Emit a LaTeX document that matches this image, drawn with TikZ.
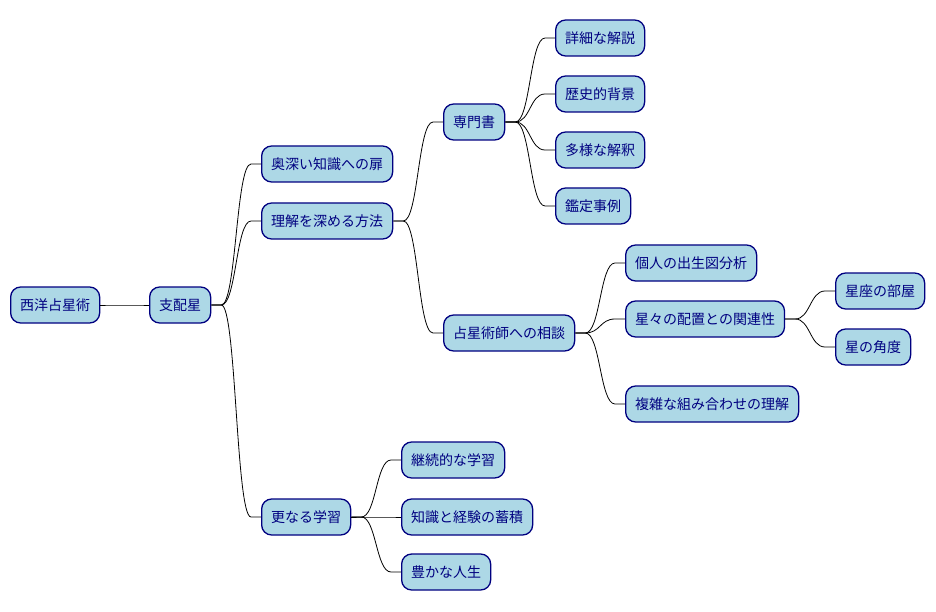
\documentclass[tikz,border=0pt]{standalone}
\usepackage{fontspec}
\newfontfamily\jpfont{Noto Sans CJK JP}
\definecolor{ideafill}{HTML}{ADD8E6}
\definecolor{idealine}{HTML}{000080}

\begin{document}
\begin{tikzpicture}[x=1pt,y=-1pt,
  idea/.style={draw=idealine,fill=ideafill,text=idealine,line width=1.3pt,
    rounded corners=10pt,minimum height=36pt,inner xsep=9.5pt,anchor=west,
    font=\jpfont\fontsize{14}{16}\selectfont},
  branch/.style={line width=.8pt,to path={-- ++(10,0)
    .. controls +(15,0) and +(-15,0) .. ([xshift=-10pt]\tikztotarget)
    -- (\tikztotarget)}}]
\path[use as bounding box] (0,0) rectangle (936,612);

% root and first level
\node[idea] (root) at (10,305) {西洋占星術};
\node[idea] (ruler) at (149,305) {支配星};
\node[idea] (door) at (261,164) {奥深い知識への扉};
\node[idea] (deepen) at (261,221) {理解を深める方法};
\node[idea] (further) at (261,517) {更なる学習};

% ways to deepen
\node[idea] (books) at (443,122) {専門書};
\node[idea] (consult) at (443,333) {占星術師への相談};
\node[idea] (detail) at (555,38) {詳細な解説};
\node[idea] (history) at (555,94) {歴史的背景};
\node[idea] (interp) at (555,150) {多様な解釈};
\node[idea] (cases) at (555,206) {鑑定事例};
\node[idea] (chart) at (625,263) {個人の出生図分析};
\node[idea] (placement) at (625,319) {星々の配置との関連性};
\node[idea] (combo) at (625,404) {複雑な組み合わせの理解};
\node[idea] (houses) at (835,291) {星座の部屋};
\node[idea] (aspects) at (835,347) {星の角度};

% further study
\node[idea] (study) at (401,460) {継続的な学習};
\node[idea] (stock) at (401,517) {知識と経験の蓄積};
\node[idea] (life) at (401,572) {豊かな人生};

\foreach \a/\b in {root/ruler,ruler/door,ruler/deepen,ruler/further,
    deepen/books,deepen/consult,books/detail,books/history,books/interp,
    books/cases,consult/chart,consult/placement,consult/combo,
    placement/houses,placement/aspects,further/study,further/stock,further/life}
  \draw[branch] (\a.east) to (\b.west);
\end{tikzpicture}
\end{document}
